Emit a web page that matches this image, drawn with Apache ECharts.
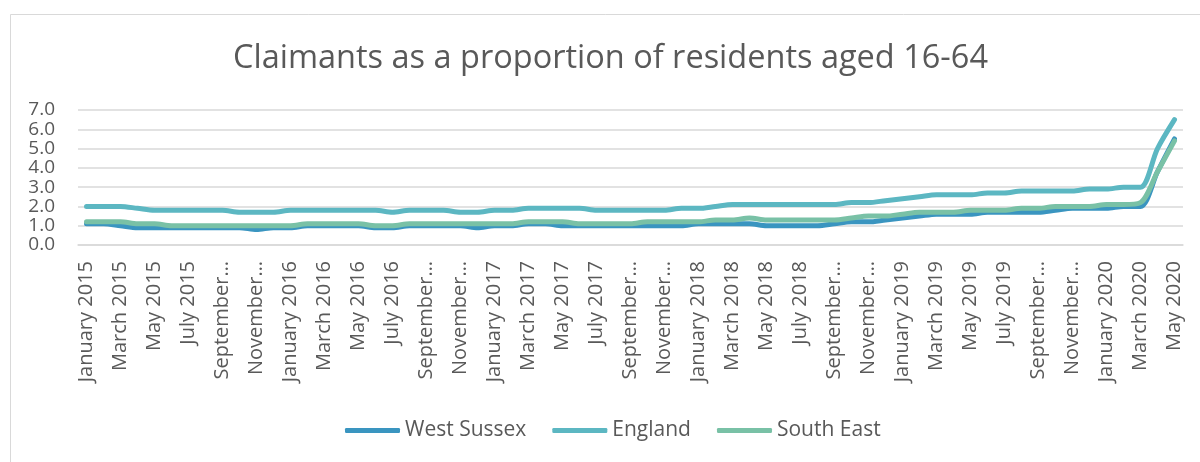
<!DOCTYPE html>
<html>
<head>
<meta charset="utf-8">
<script src="https://cdn.jsdelivr.net/npm/echarts@6/dist/echarts.min.js"></script>
<style>
html,body{margin:0;padding:0;background:#fff;}
#chart{width:1200px;height:462px;}
</style>
</head>
<body>
<div id="chart"></div>
<script>
var monthNames = ['January','February','March','April','May','June','July','August','September','October','November','December'];
var years = [2015, 2016, 2017, 2018, 2019, 2020];
var categories = [];
years.forEach(function (y) {
  monthNames.forEach(function (m, i) {
    if (y < 2020 || i < 5) categories.push(m + ' ' + y);
  });
});

var westSussex = [
  1.1,1.1,1.0,0.9,0.9,0.9,0.9,0.9,0.9,0.9,0.8,0.9,
  0.9,1.0,1.0,1.0,1.0,0.9,0.9,1.0,1.0,1.0,1.0,0.9,
  1.0,1.0,1.1,1.1,1.0,1.0,1.0,1.0,1.0,1.0,1.0,1.0,
  1.1,1.1,1.1,1.1,1.0,1.0,1.0,1.0,1.1,1.2,1.2,1.3,
  1.4,1.5,1.6,1.6,1.6,1.7,1.7,1.7,1.7,1.8,1.9,1.9,
  1.9,2.0,2.0,3.8,5.5
];
var england = [
  2.0,2.0,2.0,1.9,1.8,1.8,1.8,1.8,1.8,1.7,1.7,1.7,
  1.8,1.8,1.8,1.8,1.8,1.8,1.7,1.8,1.8,1.8,1.7,1.7,
  1.8,1.8,1.9,1.9,1.9,1.9,1.8,1.8,1.8,1.8,1.8,1.9,
  1.9,2.0,2.1,2.1,2.1,2.1,2.1,2.1,2.1,2.2,2.2,2.3,
  2.4,2.5,2.6,2.6,2.6,2.7,2.7,2.8,2.8,2.8,2.8,2.9,
  2.9,3.0,3.0,5.0,6.5
];
var southEast = [
  1.2,1.2,1.2,1.1,1.1,1.0,1.0,1.0,1.0,1.0,1.0,1.0,
  1.0,1.1,1.1,1.1,1.1,1.0,1.0,1.1,1.1,1.1,1.1,1.1,
  1.1,1.1,1.2,1.2,1.2,1.1,1.1,1.1,1.1,1.2,1.2,1.2,
  1.2,1.3,1.3,1.4,1.3,1.3,1.3,1.3,1.3,1.4,1.5,1.5,
  1.6,1.7,1.7,1.7,1.8,1.8,1.8,1.9,1.9,2.0,2.0,2.0,
  2.1,2.1,2.2,3.8,5.4
];
var yTickLabels = ['0.0','1.0','2.0','3.0','4.0','5.0','6.0','7.0'];
var seriesNames = ['West Sussex', 'England', 'South East'];
var seriesColors = ['#3A95C0', '#5CB7C2', '#79C1A6'];
var seriesData = [westSussex, england, southEast];

var FONT = 'Open Sans';
var chart = echarts.init(document.getElementById('chart'), null, {renderer: 'canvas'});
chart.setOption({
  animation: false,
  backgroundColor: '#ffffff',
  textStyle: {fontFamily: FONT},
  graphic: [{
    type: 'rect', left: 8, top: 12, z: -1,
    shape: {width: 1220, height: 480},
    style: {fill: 'none', stroke: '#d9d9d9', lineWidth: 1}
  }],
  title: {
    text: 'Claimants as a proportion of residents aged 16-64',
    left: 228, top: 37,
    textStyle: {fontFamily: FONT, fontSize: 32.5, fontWeight: 'normal', color: '#595959'}
  },
  legend: {
    bottom: 16, left: 340,
    itemWidth: 55, itemHeight: 5, itemGap: 26,
    icon: 'roundRect',
    textStyle: {fontFamily: FONT, fontSize: 21, color: '#595959'},
    data: seriesNames
  },
  grid: {left: 78, right: 17, top: 110, bottom: 217, containLabel: false},
  xAxis: {
    type: 'category', data: categories, boundaryGap: true,
    axisLine: {show: true, lineStyle: {color: '#d9d9d9', width: 1.5}},
    axisTick: {show: false},
    axisLabel: {
      interval: 1, rotate: 90, margin: 16,
      fontFamily: FONT, fontSize: 20, color: '#595959',
      formatter: function (v) { return v.length >= 13 ? v.split(' ')[0] + '…' : v; }
    }
  },
  yAxis: {
    type: 'value', min: 0, max: 7, interval: 1,
    axisLine: {show: false}, axisTick: {show: false},
    splitLine: {lineStyle: {color: '#d9d9d9', width: 1.5}},
    axisLabel: {
      margin: 23, fontFamily: FONT, fontSize: 19, color: '#595959',
      showMinLabel: true, showMaxLabel: true, hideOverlap: false,
      lineHeight: 12, padding: 0,
      formatter: function (v) { return yTickLabels[Math.round(v)]; }
    }
  },
  series: seriesNames.map(function (n, i) {
    return {
      name: n, type: 'line', data: seriesData[i],
      smooth: 0.3, symbol: 'none',
      lineStyle: {width: 5, color: seriesColors[i], cap: 'round', join: 'round'},
      itemStyle: {color: seriesColors[i]}
    };
  })
});
</script>
</body>
</html>
